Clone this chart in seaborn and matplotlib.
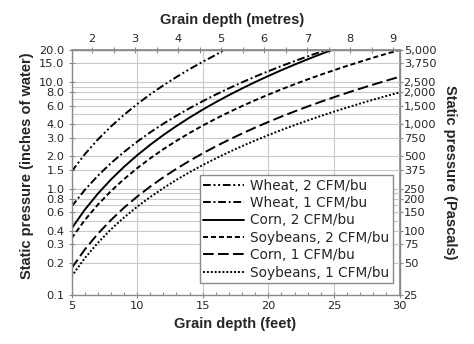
import numpy as np
import pandas as pd
import matplotlib
matplotlib.use("Agg")
import matplotlib.pyplot as plt
import seaborn as sns
from matplotlib.ticker import FixedLocator, FuncFormatter, NullLocator, NullFormatter

# ---------------- data ----------------
series_names = ["Wheat, 2 CFM/bu", "Wheat, 1 CFM/bu", "Corn, 2 CFM/bu",
                "Soybeans, 2 CFM/bu", "Corn, 1 CFM/bu", "Soybeans, 1 CFM/bu"]

wheat2_ft = [5, 6, 7, 8, 9, 10, 11, 12, 13, 14, 15, 16, 16.6]
wheat2_in = [1.44, 2.09, 2.88, 3.82, 4.92, 6.2, 7.66, 9.31, 11.16, 13.22, 15.5, 18.0, 20.0]

wheat1_ft = [5, 6, 7, 8, 9, 10, 11, 12, 13, 14, 15, 16, 17, 18, 19, 20, 21, 22, 23, 24, 24.4]
wheat1_in = [0.676, 0.966, 1.316, 1.728, 2.205, 2.75, 3.37, 4.06, 4.83, 5.68, 6.61, 7.63,
             8.74, 9.94, 11.24, 12.63, 14.13, 15.73, 17.43, 19.25, 20.0]

corn2_ft = [5, 6, 7, 8, 9, 10, 11, 12, 13, 14, 15, 16, 17, 18, 19, 20, 21, 22, 23, 24, 24.83]
corn2_in = [0.42, 0.629, 0.892, 1.213, 1.598, 2.05, 2.576, 3.179, 3.865, 4.639, 5.51, 6.47,
            7.54, 8.71, 10.0, 11.4, 12.93, 14.58, 16.37, 18.29, 20.0]

soy2_ft = list(range(5, 31))
soy2_in = [0.34, 0.503, 0.704, 0.944, 1.225, 1.55, 1.921, 2.34, 2.807, 3.326, 3.9, 4.526,
           5.209, 5.95, 6.751, 7.615, 8.542, 9.534, 10.59, 11.72, 12.91, 14.18, 15.52,
           16.94, 18.43, 20.0]

corn1_ft = list(range(5, 31))
corn1_in = [0.178, 0.266, 0.375, 0.505, 0.66, 0.838, 1.043, 1.274, 1.533, 1.821, 2.14, 2.49,
            2.871, 3.286, 3.735, 4.22, 4.739, 5.297, 5.893, 6.526, 7.199, 7.916, 8.671,
            9.471, 10.31, 11.2]

soy1_ft = list(range(5, 31))
soy1_in = [0.149, 0.221, 0.308, 0.413, 0.534, 0.674, 0.832, 1.009, 1.206, 1.423, 1.66, 1.919,
           2.199, 2.501, 2.826, 3.173, 3.544, 3.938, 4.358, 4.801, 5.269, 5.763, 6.282,
           6.829, 7.401, 8.0]

left_ticks = [0.1, 0.2, 0.3, 0.4, 0.6, 0.8, 1.0, 1.5, 2.0, 3.0, 4.0, 6.0, 8.0, 10.0, 15.0, 20.0]
extra_grid = [0.5, 0.7, 0.9, 5.0, 7.0, 9.0]
right_ticks = [25, 50, 75, 100, 150, 200, 250, 375, 500, 750, 1000, 1500, 2000, 2500, 3750, 5000]
bottom_ticks = [5, 10, 15, 20, 25, 30]
top_ticks = [2, 3, 4, 5, 6, 7, 8, 9]
top_minor = [1.5, 2.5, 3.5, 4.5, 5.5, 6.5, 7.5, 8.5]

# ---------------- build long table ----------------
xs = [wheat2_ft, wheat1_ft, corn2_ft, soy2_ft, corn1_ft, soy1_ft]
ys = [wheat2_in, wheat1_in, corn2_in, soy2_in, corn1_in, soy1_in]
frames = [pd.DataFrame({"ft": x, "inH2O": y, "series": n}) for n, x, y in zip(series_names, xs, ys)]
df = pd.concat(frames, ignore_index=True)

dash_map = {
    "Wheat, 2 CFM/bu": (4, 1.4, 1, 1.4, 1, 1.4),
    "Wheat, 1 CFM/bu": (4, 1.4, 1, 1.4),
    "Corn, 2 CFM/bu": "",
    "Soybeans, 2 CFM/bu": (2.6, 1.5),
    "Corn, 1 CFM/bu": (5.5, 2.2),
    "Soybeans, 1 CFM/bu": (1, 1),
}

sns.set_theme(style="white")
plt.rcParams["font.family"] = ["DejaVu Sans"]

fig = plt.figure(figsize=(4.74, 3.44), dpi=100)
ax = fig.add_axes([71.5 / 474, 1 - 295 / 344, 328 / 474, 245 / 344])

sns.lineplot(data=df, x="ft", y="inH2O", hue="series", style="series",
             hue_order=series_names, style_order=series_names,
             palette={n: "black" for n in series_names}, dashes=dash_map,
             linewidth=1.4, sort=False, estimator=None, ax=ax, legend=False)

ax.set_yscale("log")
ax.set_xlim(5, 30)
ax.set_ylim(0.1, 20)

grid_col = "#c9c9c9"
spine_col = "#8a8a8a"
tick_fs = 8.2

# y ticks/grid
ax.yaxis.set_major_locator(FixedLocator(left_ticks))
ax.yaxis.set_major_formatter(FuncFormatter(lambda v, p: f"{v:.1f}"))
ax.yaxis.set_minor_locator(FixedLocator(extra_grid))
ax.yaxis.set_minor_formatter(NullFormatter())
# x ticks/grid
ax.xaxis.set_major_locator(FixedLocator(bottom_ticks))
ax.xaxis.set_minor_locator(FixedLocator([v for v in range(5, 31) if v % 5]))
ax.grid(True, which="major", axis="both", color=grid_col, linewidth=0.8)
ax.grid(True, which="minor", axis="y", color=grid_col, linewidth=0.8)
ax.set_axisbelow(True)

ax.tick_params(axis="y", which="major", direction="inout", length=4, width=0.8,
               color=spine_col, labelsize=tick_fs, pad=3, left=True)
ax.tick_params(axis="y", which="minor", length=0)
ax.tick_params(axis="x", which="major", direction="inout", length=5, width=0.8,
               color=spine_col, labelsize=tick_fs, pad=2, bottom=True)
ax.tick_params(axis="x", which="minor", direction="in", length=2.5, width=0.8,
               color=spine_col, bottom=True)

for s in ax.spines.values():
    s.set_color(spine_col)
    s.set_linewidth(1.0)
    s.set_visible(True)

ax.set_xlabel("")
ax.set_ylabel("")

# secondary axes
sec_y = ax.secondary_yaxis("right", functions=(lambda v: v * 250.0, lambda p: p / 250.0))
sec_y.yaxis.set_major_locator(FixedLocator(right_ticks))
sec_y.yaxis.set_major_formatter(FuncFormatter(lambda v, p: f"{v:,.0f}"))
sec_y.yaxis.set_minor_locator(NullLocator())
sec_y.tick_params(axis="y", direction="inout", length=4, width=0.8, color=spine_col,
                  labelsize=tick_fs, pad=1)
sec_y.spines["right"].set_color(spine_col)

sec_x = ax.secondary_xaxis("top", functions=(lambda f: f * 0.3048, lambda m: m / 0.3048))
sec_x.xaxis.set_major_locator(FixedLocator(top_ticks))
sec_x.xaxis.set_minor_locator(FixedLocator(top_minor))
sec_x.tick_params(axis="x", which="major", direction="inout", length=5, width=0.8,
                  color=spine_col, labelsize=tick_fs, pad=2)
sec_x.tick_params(axis="x", which="minor", direction="inout", length=4, width=0.8,
                  color=spine_col)
sec_x.spines["top"].set_color(spine_col)

# axis titles
title_font = dict(family=["Liberation Sans", "DejaVu Sans"], weight="bold", size=10.5)
fig.text(27 / 474, 1 - 166 / 344, "Static pressure (inches of water)", rotation=90,
         ha="center", va="center", **title_font)
fig.text(450 / 474, 1 - 172 / 344, "Static pressure (Pascals)", rotation=270,
         ha="center", va="center", **title_font)
fig.text(235 / 474, 1 - 324 / 344, "Grain depth (feet)", ha="center", va="center", **title_font)
fig.text(232 / 474, 1 - 20 / 344, "Grain depth (metres)", ha="center", va="center", **title_font)

# legend
handles = ax.get_lines()[:6]
leg = ax.legend(handles, series_names, loc="lower right",
                bbox_to_anchor=((392.7 - 71.5) / 328, (295 - 283) / 245),
                borderaxespad=0, fontsize=9.8, handlelength=3.0, handletextpad=0.45,
                labelspacing=0.25, borderpad=0.25, frameon=True, fancybox=False,
                framealpha=1, edgecolor=spine_col)
leg.get_frame().set_linewidth(1.0)

fig.savefig("out.png", dpi=100)
